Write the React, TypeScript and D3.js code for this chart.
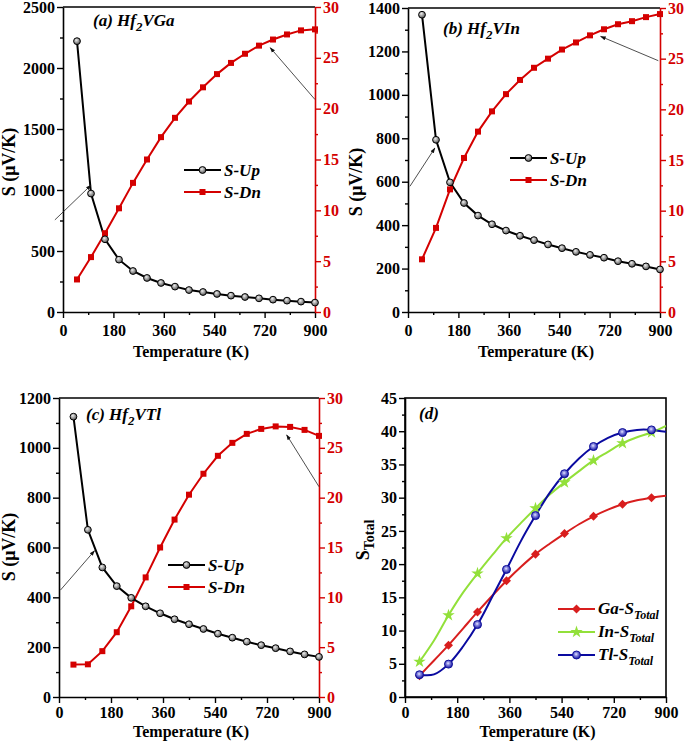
import React, { useEffect, useRef } from 'react';
import * as d3 from 'd3';

// temperature grid (K)
const temps = [50, 100, 150, 200, 250, 300, 350, 400, 450, 500, 550, 600, 650, 700, 750, 800, 850, 900];

// (a) Hf2VGa
const gaUp = [2220, 971, 596, 429, 336, 279, 238, 208, 180, 164, 148, 134, 123, 112, 101, 93, 85, 77];
const gaDn = [3.2, 5.4, 7.75, 10.2, 12.7, 15.0, 17.2, 19.1, 20.7, 22.1, 23.4, 24.5, 25.4, 26.2, 26.8, 27.3, 27.7, 27.8];

// (b) Hf2VIn
const inUp = [1369, 793, 597, 502, 444, 404, 375, 351, 331, 311, 294, 277, 263, 250, 234, 222, 210, 196];
const inDn = [5.2, 8.3, 12.1, 15.2, 17.8, 19.8, 21.5, 22.9, 24.1, 25.0, 25.9, 26.6, 27.3, 27.9, 28.4, 28.7, 29.1, 29.4];

// (c) Hf2VTl
const tlUp = [1125, 671, 520, 445, 398, 364, 336, 312, 292, 273, 254, 238, 222, 208, 196, 183, 171, 161];
const tlDn = [3.25, 3.28, 4.6, 6.5, 9.1, 12.0, 15.0, 17.8, 20.3, 22.4, 24.2, 25.5, 26.4, 26.9, 27.15, 27.1, 26.8, 26.2];

// (d) totals
const gaTotal = [3.2, 5.5, 7.8, 10.3, 12.8, 15.2, 17.5, 19.6, 21.5, 23.1, 24.6, 26.0, 27.2, 28.2, 29.0, 29.6, 30.0, 30.3];
const inTotal = [5.3, 8.5, 12.3, 15.7, 18.6, 21.3, 23.9, 26.2, 28.4, 30.5, 32.3, 34.0, 35.6, 36.9, 38.2, 39.1, 39.8, 40.8];
const tlTotal = [3.35, 3.4, 4.95, 7.6, 10.9, 15.0, 19.2, 23.5, 27.3, 30.8, 33.6, 35.9, 37.7, 39.0, 39.8, 40.2, 40.2, 39.9];

const xTicks = [0, 180, 360, 540, 720, 900];
const xMinor = [90, 270, 450, 630, 810];
const dnTicks = [0, 5, 10, 15, 20, 25, 30];
const totalTicks = [0, 5, 10, 15, 20, 25, 30, 35, 40, 45];

const FONT = '"Liberation Serif", "Times New Roman", serif';
const RED = '#d40000';

interface SpinPanel {
  left: number; right: number; top: number; bottom: number;
  upMax: number; upStep: number;
  up: number[]; dn: number[];
  name: string; labelX: number; labelY: number;
  legX: number; legY: number;
  yTitleX: number; yTitleY: number; tickPad: number;
  // arrows in data coordinates: [T0, S0, T1, S1]
  upArrow: number[]; dnArrow: number[];
}

const panels: SpinPanel[] = [
  { left: 63, right: 315, top: 7, bottom: 312, upMax: 2500, upStep: 500, up: gaUp, dn: gaDn,
    name: 'VGa', labelX: 93, labelY: 26, legX: 184, legY: 170, yTitleX: 15, yTitleY: 162, tickPad: 7,
    upArrow: [-29, 755, 100, 1040], dnArrow: [900, 20.9, 740, 26.0] },
  { left: 408, right: 660, top: 8, bottom: 312, upMax: 1400, upStep: 200, up: inUp, dn: inDn,
    name: 'VIn', labelX: 443, labelY: 34, legX: 510, legY: 158, yTitleX: 362, yTitleY: 182, tickPad: 7,
    upArrow: [7, 579, 96, 755], dnArrow: [894, 24.8, 688, 27.2] },
  { left: 59, right: 319, top: 398, bottom: 697, upMax: 1200, upStep: 200, up: tlUp, dn: tlDn,
    name: 'VTl', labelX: 86, labelY: 420, legX: 168, legY: 565, yTitleX: 15, yTitleY: 547, tickPad: 4,
    upArrow: [5, 429, 123, 587], dnArrow: [900, 21.1, 788, 26.3] },
];

const range = (max: number, step: number, off = 0) => d3.range(off, max + 0.001, step);

function styleAxis(g: d3.Selection<SVGGElement, unknown, null, undefined>, color: string) {
  g.attr('font-family', FONT).attr('font-size', 16).attr('font-weight', 'bold');
  g.selectAll('path').attr('stroke', color).attr('stroke-width', 1.6);
  g.selectAll('line').attr('stroke', color).attr('stroke-width', 1.4);
  g.selectAll('text').attr('fill', color);
}

function axisTitle(svg: any, x: number, y: number, rotate: boolean, text: string, size = 16) {
  return svg.append('text')
    .attr('transform', rotate ? `translate(${x},${y}) rotate(-90)` : `translate(${x},${y})`)
    .attr('text-anchor', 'middle')
    .attr('font-family', FONT).attr('font-size', size).attr('font-weight', 'bold')
    .text(text);
}

function drawArrow(svg: any, p: number[], x: any, y: any) {
  svg.append('line')
    .attr('x1', x(p[0])).attr('y1', y(p[1]))
    .attr('x2', x(p[2])).attr('y2', y(p[3]))
    .attr('stroke', '#222').attr('stroke-width', 0.8)
    .attr('marker-end', 'url(#arrowHead)');
}

const App: React.FC = () => {
  const ref = useRef<SVGSVGElement>(null);

  useEffect(() => {
    document.body.style.margin = '0';
    if (!ref.current) return;
    const svg = d3.select(ref.current);
    svg.selectAll('*').remove();

    const defs = svg.append('defs');
    const gray = defs.append('radialGradient').attr('id', 'grayBall').attr('cx', '40%').attr('cy', '35%').attr('r', '65%');
    gray.append('stop').attr('offset', '0%').attr('stop-color', '#eeeeee');
    gray.append('stop').attr('offset', '100%').attr('stop-color', '#555555');
    const blue = defs.append('radialGradient').attr('id', 'blueBall').attr('cx', '45%').attr('cy', '40%').attr('r', '60%');
    blue.append('stop').attr('offset', '0%').attr('stop-color', '#e8e8ff');
    blue.append('stop').attr('offset', '35%').attr('stop-color', '#8a8ae0');
    blue.append('stop').attr('offset', '100%').attr('stop-color', '#1010a0');
    defs.append('marker').attr('id', 'arrowHead')
      .attr('viewBox', '0 0 10 10').attr('refX', 9).attr('refY', 5)
      .attr('markerWidth', 7).attr('markerHeight', 7).attr('orient', 'auto')
      .append('path').attr('d', 'M0,1.5 L10,5 L0,8.5 Z').attr('fill', '#111');

    const upSym = (g: any) => g.append('circle').attr('r', 3.4).attr('fill', 'url(#grayBall)').attr('stroke', '#000').attr('stroke-width', 1);
    const dnSym = (g: any) => g.append('rect').attr('x', -3).attr('y', -3).attr('width', 6).attr('height', 6).attr('fill', RED);

    panels.forEach((p, pi) => {
      const x = d3.scaleLinear().domain([0, 900]).range([p.left, p.right]);
      const yL = d3.scaleLinear().domain([0, p.upMax]).range([p.bottom, p.top]);
      const yR = d3.scaleLinear().domain([0, 30]).range([p.bottom, p.top]);

      // top border
      svg.append('line').attr('x1', p.left).attr('x2', p.right).attr('y1', p.top).attr('y2', p.top)
        .attr('stroke', '#000').attr('stroke-width', 1.6);

      // axes
      const gx = svg.append('g').attr('transform', `translate(0,${p.bottom})`)
        .call(d3.axisBottom(x).tickValues(xTicks).tickSize(6).tickSizeOuter(0).tickPadding(p.tickPad));
      styleAxis(gx, '#000');
      svg.append('g').attr('transform', `translate(0,${p.bottom})`)
        .call(d3.axisBottom(x).tickValues(xMinor).tickSize(3).tickSizeOuter(0).tickFormat(() => ''))
        .call(g => { g.select('path').remove(); g.selectAll('line').attr('stroke', '#000').attr('stroke-width', 1.4); });

      const gl = svg.append('g').attr('transform', `translate(${p.left},0)`)
        .call(d3.axisLeft(yL).tickValues(range(p.upMax, p.upStep)).tickSize(6).tickSizeOuter(0).tickPadding(2).tickFormat(d3.format('d')));
      styleAxis(gl, '#000');
      svg.append('g').attr('transform', `translate(${p.left},0)`)
        .call(d3.axisLeft(yL).tickValues(range(p.upMax, p.upStep, p.upStep / 2)).tickSize(3).tickSizeOuter(0).tickFormat(() => ''))
        .call(g => { g.select('path').remove(); g.selectAll('line').attr('stroke', '#000').attr('stroke-width', 1.4); });

      const gr = svg.append('g').attr('transform', `translate(${p.right},0)`)
        .call(d3.axisRight(yR).tickValues(dnTicks).tickSize(6).tickSizeOuter(0).tickPadding(2));
      styleAxis(gr, RED);
      svg.append('g').attr('transform', `translate(${p.right},0)`)
        .call(d3.axisRight(yR).tickValues(range(30, 5, 2.5)).tickSize(3).tickSizeOuter(0).tickFormat(() => ''))
        .call(g => { g.select('path').remove(); g.selectAll('line').attr('stroke', RED).attr('stroke-width', 1.4); });

      axisTitle(svg, (p.left + p.right) / 2 + 2, p.bottom + (pi < 2 ? 45 : 40), false, 'Temperature (K)');
      axisTitle(svg, p.yTitleX, p.yTitleY, true, 'S (\u03bcV/K)', 18);

      // data lines
      const lineUp = d3.line<number>().x((d, i) => x(temps[i])).y(d => yL(d));
      const lineDn = d3.line<number>().x((d, i) => x(temps[i])).y(d => yR(d));
      svg.append('path').datum(p.dn).attr('d', lineDn).attr('fill', 'none').attr('stroke', RED).attr('stroke-width', 2);
      svg.append('path').datum(p.up).attr('d', lineUp).attr('fill', 'none').attr('stroke', '#000').attr('stroke-width', 2);

      p.dn.forEach((d, i) => dnSym(svg.append('g').attr('transform', `translate(${x(temps[i])},${yR(d)})`)));
      p.up.forEach((d, i) => upSym(svg.append('g').attr('transform', `translate(${x(temps[i])},${yL(d)})`)));

      drawArrow(svg, p.upArrow, x, yL);
      drawArrow(svg, p.dnArrow, x, yR);

      // panel label
      const lbl = svg.append('text').attr('x', p.labelX).attr('y', p.labelY)
        .attr('font-family', FONT).attr('font-size', 17).attr('font-weight', 'bold').attr('font-style', 'italic');
      lbl.append('tspan').text(`(${'abc'[pi]}) Hf`);
      lbl.append('tspan').attr('dy', 5).attr('font-size', 13).text('2');
      lbl.append('tspan').attr('dy', -5).text(p.name);

      // legend
      const legend = [{ name: 'S-Up', color: '#000', sym: upSym }, { name: 'S-Dn', color: RED, sym: dnSym }];
      legend.forEach((l, i) => {
        const ly = p.legY + i * 22;
        svg.append('line').attr('x1', p.legX).attr('x2', p.legX + 37).attr('y1', ly).attr('y2', ly)
          .attr('stroke', l.color).attr('stroke-width', 2);
        l.sym(svg.append('g').attr('transform', `translate(${p.legX + 18.5},${ly})`));
        svg.append('text').attr('x', p.legX + 40).attr('y', ly + 6)
          .attr('font-family', FONT).attr('font-size', 17).attr('font-weight', 'bold').attr('font-style', 'italic')
          .text(l.name);
      });
    });

    // panel (d)
    const d = { left: 405, right: 666, top: 398, bottom: 697 };
    const x = d3.scaleLinear().domain([0, 900]).range([d.left, d.right]);
    const y = d3.scaleLinear().domain([0, 45]).range([d.bottom, d.top]);

    svg.append('rect').attr('x', d.left).attr('y', d.top).attr('width', d.right - d.left).attr('height', d.bottom - d.top)
      .attr('fill', 'none').attr('stroke', '#000').attr('stroke-width', 1.6);
    const gx = svg.append('g').attr('transform', `translate(0,${d.bottom})`)
      .call(d3.axisBottom(x).tickValues(xTicks).tickSize(6).tickSizeOuter(0).tickPadding(4));
    styleAxis(gx, '#000');
    svg.append('g').attr('transform', `translate(0,${d.bottom})`)
      .call(d3.axisBottom(x).tickValues(xMinor).tickSize(3).tickSizeOuter(0).tickFormat(() => ''))
      .call(g => { g.select('path').remove(); g.selectAll('line').attr('stroke', '#000').attr('stroke-width', 1.4); });
    const gl = svg.append('g').attr('transform', `translate(${d.left},0)`)
      .call(d3.axisLeft(y).tickValues(totalTicks).tickSize(6).tickSizeOuter(0).tickPadding(2));
    styleAxis(gl, '#000');
    svg.append('g').attr('transform', `translate(${d.left},0)`)
      .call(d3.axisLeft(y).tickValues(range(45, 5, 2.5)).tickSize(3).tickSizeOuter(0).tickFormat(() => ''))
      .call(g => { g.select('path').remove(); g.selectAll('line').attr('stroke', '#000').attr('stroke-width', 1.4); });

    axisTitle(svg, (d.left + d.right) / 2 + 2, d.bottom + 40, false, 'Temperature (K)');
    const yt = svg.append('text').attr('transform', `translate(369,540) rotate(-90)`).attr('text-anchor', 'middle')
      .attr('font-family', FONT).attr('font-size', 18).attr('font-weight', 'bold');
    yt.append('tspan').text('S');
    yt.append('tspan').attr('dy', 5).attr('font-size', 14).text('Total');

    svg.append('text').attr('x', 419).attr('y', 419)
      .attr('font-family', FONT).attr('font-size', 17).attr('font-weight', 'bold').attr('font-style', 'italic').text('(d)');

    const diamond = (color: string) => (g: any) => g.append('rect').attr('x', -3.2).attr('y', -3.2).attr('width', 6.4).attr('height', 6.4)
      .attr('transform', 'rotate(45)').attr('fill', color);
    const star = (color: string) => (g: any) => g.append('path').attr('d', d3.symbol(d3.symbolStar, 48)()).attr('fill', color);
    const ball = () => (g: any) => g.append('circle').attr('r', 4).attr('fill', 'url(#blueBall)').attr('stroke', '#10109a').attr('stroke-width', 1);

    const totals = [
      { name: 'Ga-S', data: gaTotal, color: '#d81e1e', sym: diamond('#d81e1e') },
      { name: 'In-S', data: inTotal, color: '#92e03a', sym: star('#92e03a') },
      { name: 'Tl-S', data: tlTotal, color: '#0a0aa0', sym: ball() },
    ];
    const clipId = 'clipD';
    defs.append('clipPath').attr('id', clipId).append('rect')
      .attr('x', d.left).attr('y', d.top).attr('width', d.right - d.left).attr('height', d.bottom - d.top);
    const line = d3.line<number>().x((v, i) => x(temps[i])).y(v => y(v)).curve(d3.curveCatmullRom.alpha(0.5));
    totals.forEach(s => {
      svg.append('path').datum(s.data).attr('d', line).attr('fill', 'none').attr('stroke', s.color)
        .attr('stroke-width', 2).attr('clip-path', `url(#${clipId})`);
    });
    totals.forEach(s => {
      s.data.forEach((v, i) => {
        if (i % 2 === 0) s.sym(svg.append('g').attr('transform', `translate(${x(temps[i])},${y(v)})`));
      });
    });

    totals.forEach((s, i) => {
      const ly = 609 + i * 23;
      svg.append('line').attr('x1', 558).attr('x2', 595).attr('y1', ly).attr('y2', ly)
        .attr('stroke', s.color).attr('stroke-width', 2);
      s.sym(svg.append('g').attr('transform', `translate(576.5,${ly})`));
      const t = svg.append('text').attr('x', 598).attr('y', ly + 5)
        .attr('font-family', FONT).attr('font-size', 17).attr('font-weight', 'bold').attr('font-style', 'italic');
      t.append('tspan').text(s.name);
      t.append('tspan').attr('dy', 5).attr('font-size', 12).text('Total');
    });
  }, []);

  return <svg ref={ref} width={685} height={742} style={{ display: 'block', background: '#fff' }} />;
};

export default App;
